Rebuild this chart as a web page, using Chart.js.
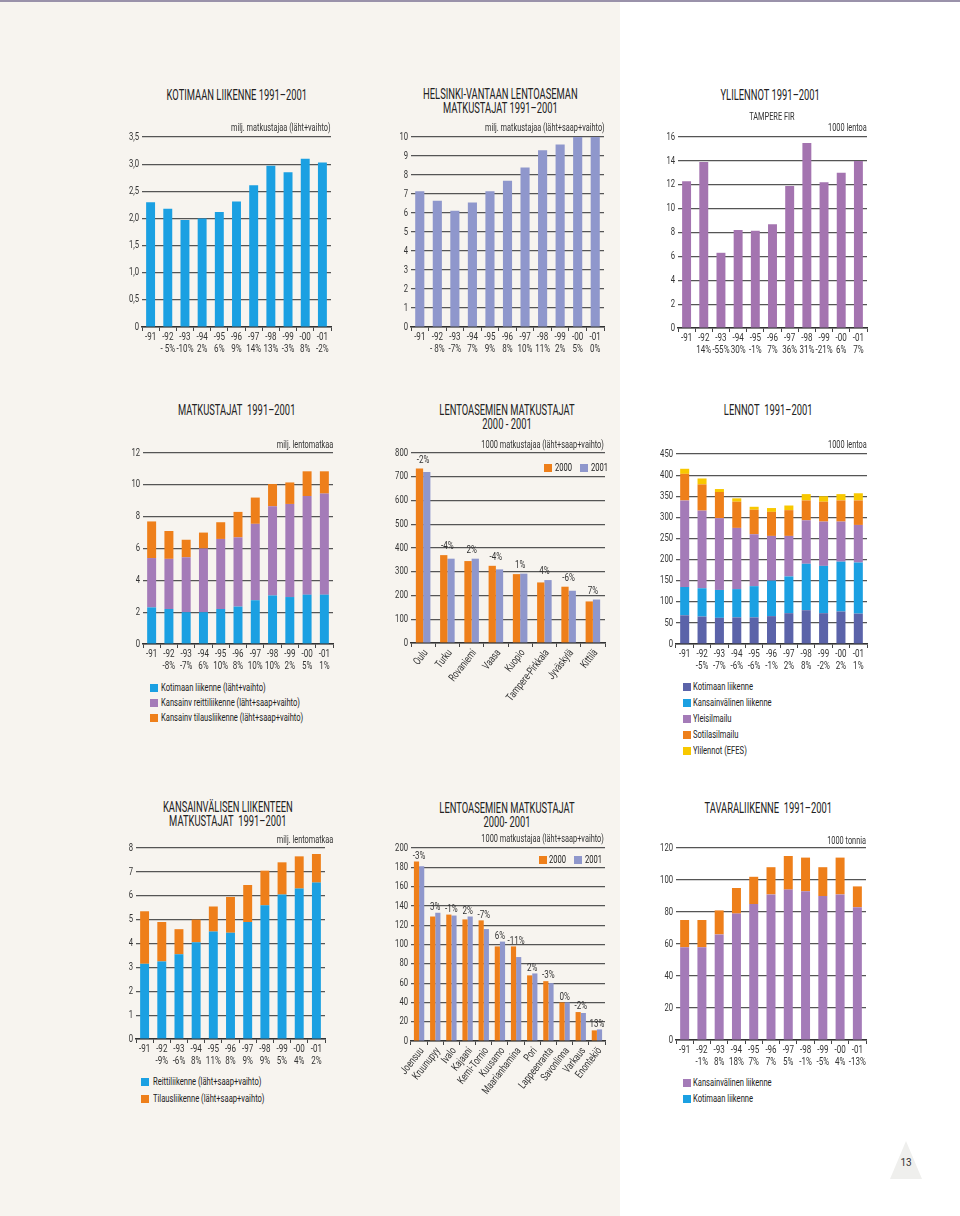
<!DOCTYPE html>
<html>
<head>
<meta charset="utf-8">
<script src="https://cdn.jsdelivr.net/npm/chart.js@4.4.1/dist/chart.umd.min.js"></script>
<style>
  html, body { margin: 0; padding: 0; }
  body { width: 960px; height: 1216px; position: relative; background: #fff; overflow: hidden;
         font-family: Roboto, 'Liberation Sans', sans-serif; color: #222; }
  #leftBg { position: absolute; left: 0; top: 0; width: 620px; height: 1216px; background: #f7f4ef; }
  #topLine { position: absolute; left: 0; top: 0; width: 960px; height: 2px; background: #9a92aa; }
  canvas { position: absolute; }
  .title { position: absolute; width: 300px; text-align: center; font-size: 14px; line-height: 14px; color: #222; }
  .title span { display: inline-block; transform: scaleX(0.67); transform-origin: 50% 50%; white-space: nowrap; }
  .unit { position: absolute; width: 240px; text-align: right; font-size: 11px; line-height: 12px; color: #333; }
  .unit span { display: inline-block; transform: scaleX(0.67); transform-origin: 100% 50%; white-space: nowrap; }
  .unit.center { text-align: center; }
  .unit.center span { transform-origin: 50% 50%; }
  .leg { position: absolute; font-size: 11px; line-height: 12px; color: #222; white-space: nowrap; }
  .leg i { position: absolute; width: 8px; height: 8px; top: 2px; left: 0; }
  .leg span { position: absolute; white-space: nowrap; transform: scaleX(0.69); transform-origin: 0 50%; }
  #pageNo { position: absolute; left: 890px; top: 1141px; width: 32px; height: 38px; background: #efefed;
            clip-path: polygon(50% 0, 100% 100%, 0 100%); }
  #pageNoTxt { position: absolute; left: 890px; top: 1157px; width: 32px; text-align: center; font-size: 10px; color: #333; }
</style>
</head>
<body>
<div id="leftBg"></div>
<div id="topLine"></div>
<div id="pageNo"></div>
<div id="pageNoTxt">13</div>

<canvas id="c1"></canvas><canvas id="c2"></canvas><canvas id="c3"></canvas>
<canvas id="c4"></canvas><canvas id="c5"></canvas><canvas id="c6"></canvas>
<canvas id="c7"></canvas><canvas id="c8"></canvas><canvas id="c9"></canvas>

<script>
// ====== Data ======
const years = ['-91', '-92', '-93', '-94', '-95', '-96', '-97', '-98', '-99', '-00', '-01'];

// Kotimaan liikenne 1991-2001 (milj.)
const kotimaaPct = ['', '- 5%', '-10%', '2%', '6%', '9%', '14%', '13%', '-3%', '8%', '-2%'];
const kotimaaVal = [2.3, 2.18, 1.97, 2.0, 2.12, 2.31, 2.61, 2.97, 2.85, 3.1, 3.03];
const kotimaaTicks = ['0', '0,5', '1,0', '1,5', '2,0', '2,5', '3,0', '3,5'];

// Helsinki-Vantaa (milj.)
const hvPct = ['', '- 8%', '-7%', '7%', '9%', '8%', '10%', '11%', '2%', '5%', '0%'];
const hvVal = [7.15, 6.65, 6.12, 6.55, 7.15, 7.7, 8.4, 9.3, 9.6, 10.0, 10.0];

// Ylilennot Tampere FIR (1000 lentoa)
const yliPct = ['', '14%', '-55%', '30%', '-1%', '7%', '36%', '31%', '-21%', '6%', '7%'];
const yliVal = [12.3, 13.9, 6.3, 8.2, 8.15, 8.7, 11.9, 15.5, 12.2, 13.0, 14.0];

// Matkustajat 1991-2001 (milj.)
const matkPct = ['', '-8%', '-7%', '6%', '10%', '8%', '10%', '10%', '2%', '5%', '1%'];
const matkKotimaa = [2.3, 2.2, 2.0, 2.0, 2.2, 2.35, 2.75, 3.05, 2.95, 3.1, 3.1];
const matkReitti = [3.1, 3.15, 3.45, 4.0, 4.4, 4.35, 4.8, 5.6, 5.85, 6.2, 6.35];
const matkTilaus = [2.3, 1.75, 1.1, 1.0, 1.05, 1.6, 1.65, 1.4, 1.35, 1.55, 1.4];

// Lentoasemien matkustajat 2000-2001, suuret (1000)
const asemat1 = ['Oulu', 'Turku', 'Rovaniemi', 'Vaasa', 'Kuopio', 'Tampere-Pirkkala', 'Jyväskylä', 'Kittilä'];
const asemat1v2000 = [735, 370, 345, 325, 290, 255, 237, 175];
const asemat1v2001 = [720, 355, 355, 310, 292, 265, 220, 183];
const asemat1Pct = ['-2%', '-4%', '2%', '-4%', '1%', '4%', '-6%', '7%'];

// Lennot 1991-2001 (1000 lentoa)
const lennotPct = ['', '-5%', '-7%', '-6%', '-6%', '-1%', '2%', '8%', '-2%', '2%', '1%'];
const lennotKotimaa = [68, 65, 62, 63, 63, 66, 73, 80, 73, 77, 72];
const lennotKansainv = [67, 67, 66, 67, 74, 84, 87, 110, 112, 118, 121];
const lennotYleis = [205, 184, 170, 145, 123, 106, 96, 103, 105, 95, 89];
const lennotSotilas = [63, 62, 62, 62, 58, 57, 61, 47, 47, 50, 58];
const lennotEfes = [12, 14, 7, 8, 7, 9, 11, 15, 13, 15, 17];

// Kansainvälisen liikenteen matkustajat (milj.)
const kvPct = ['', '-9%', '-6%', '8%', '11%', '8%', '9%', '9%', '5%', '4%', '2%'];
const kvReitti = [3.15, 3.25, 3.55, 4.05, 4.5, 4.45, 4.9, 5.6, 6.05, 6.3, 6.55];
const kvTilaus = [2.2, 1.65, 1.05, 0.95, 1.05, 1.5, 1.55, 1.45, 1.35, 1.35, 1.2];

// Lentoasemien matkustajat 2000-2001, pienet (1000)
const asemat2 = ['Joensuu', 'Kruunupyy', 'Ivalo', 'Kajaani', 'Kemi-Tornio', 'Kuusamo', 'Maarianhamina', 'Pori', 'Lappeenranta', 'Savonlinna', 'Varkaus', 'Enontekiö'];
const asemat2v2000 = [186, 129, 131, 126, 125, 98, 98, 68, 62, 40, 30, 11];
const asemat2v2001 = [181, 133, 130, 129, 116, 103, 87, 70, 60, 40, 29, 12];
const asemat2Pct = ['-3%', '3%', '-1%', '2%', '-7%', '6%', '-11%', '2%', '-3%', '0%', '-2%', '13%'];

// Tavaraliikenne (1000 tonnia)
const tavaraPct = ['', '-1%', '8%', '18%', '7%', '7%', '5%', '-1%', '-5%', '4%', '-13%'];
const tavaraKansainv = [58, 58, 66, 79, 85, 91, 94, 93, 90, 91, 83];
const tavaraKotimaa = [17, 17, 15, 16, 17, 17, 21, 21, 18, 23, 13];

// ====== Colours ======
const BLUE = '#1ba0e2', LAVENDER = '#8f97cc', PURPLE = '#a47bb8', ORANGE = '#ee7f1a',
      DARKBLUE = '#5b63a9', YELLOW = '#f8c800';
const FONT = "Roboto, 'Liberation Sans', sans-serif";
const SQUEEZE = 0.73;   // condensed look for canvas text

// ====== Helpers ======
function withPct(pct) { return years.map((y, i) => [y, pct[i]]); }

function place(id, x0, x1, top, zero, axisH, yW) {
    const c = document.getElementById(id);
    const padTop = 12, padRight = 3;
    c.width = (x1 - x0) + yW + padRight;
    c.height = (zero - top) + padTop + axisH;
    c.style.left = (x0 - yW) + 'px';
    c.style.top = (top - padTop) + 'px';
    return { canvas: c, padTop, padRight, yW, axisH };
}

function squeezeText(ctx, txt, x, y, angle) {
    ctx.save();
    ctx.translate(x, y);
    if (angle) ctx.rotate(-angle * Math.PI / 180);
    ctx.scale(SQUEEZE, 1);
    ctx.fillText(txt, 0, 0);
    ctx.restore();
}

// draws the axis labels in a narrow style (the chart's own labels are hidden)
const condensedTicks = {
    id: 'condensedTicks',
    afterDraw(chart) {
        const ctx = chart.ctx, xs = chart.scales.x, ys = chart.scales.y;
        const rot = chart.options.plugins.condensedTicks.rotate || 0;
        ctx.save();
        ctx.fillStyle = '#333';
        ctx.font = '10.5px ' + FONT;
        ctx.textAlign = 'right';
        ctx.textBaseline = 'middle';
        ys.ticks.forEach((t, i) => squeezeText(ctx, String(t.label), ys.right - 3, ys.getPixelForTick(i)));
        ctx.font = '11px ' + FONT;
        xs.ticks.forEach((t, i) => {
            const x = xs.getPixelForTick(i);
            if (rot) {
                ctx.textAlign = 'right';
                ctx.textBaseline = 'middle';
                squeezeText(ctx, t.label, x + 3, xs.top + 8, rot);
            } else {
                ctx.textAlign = 'center';
                ctx.textBaseline = 'top';
                const lines = Array.isArray(t.label) ? t.label : [t.label];
                lines.forEach((l, k) => squeezeText(ctx, l, x, xs.top + 5 + k * 11.5));
            }
        });
        ctx.restore();
    }
};

function makeOptions(geo, yMax, yStep, opts) {
    opts = opts || {};
    return {
        responsive: false,
        animation: false,
        layout: { padding: { top: geo.padTop, right: geo.padRight, left: 0, bottom: 0 } },
        plugins: { legend: { display: false }, tooltip: { enabled: false },
                   condensedTicks: { rotate: opts.rotate || 0 } },
        scales: {
            x: {
                stacked: !!opts.stacked,
                grid: { display: true, drawOnChartArea: false, offset: true, tickLength: 4, color: '#444', lineWidth: 1 },
                border: { color: '#333', width: 1.5 },
                ticks: { display: false, autoSkip: false },
                afterFit: s => { s.height = geo.axisH; }
            },
            y: {
                stacked: !!opts.stacked,
                min: 0, max: yMax,
                border: { display: false },
                grid: { color: '#555', lineWidth: 1.2, drawTicks: false },
                ticks: {
                    display: false, stepSize: yStep,
                    callback: opts.tickLabels ? ((v, i) => opts.tickLabels[i]) : (v => v)
                },
                afterFit: s => { s.width = geo.yW; }
            }
        }
    };
}

function barSet(data, color, extra) {
    return Object.assign({ data: data, backgroundColor: color, borderWidth: 0,
        barPercentage: 0.52, categoryPercentage: 1 }, extra || {});
}

function pctPlugin(texts, lift) {
    return {
        id: 'pctLabels',
        afterDatasetsDraw(chart) {
            const ctx = chart.ctx;
            const m0 = chart.getDatasetMeta(0), m1 = chart.getDatasetMeta(1);
            ctx.save();
            ctx.font = '11px ' + FONT;
            ctx.fillStyle = '#333';
            ctx.textAlign = 'center';
            ctx.textBaseline = 'bottom';
            texts.forEach((t, i) => {
                const x = (m0.data[i].x + m1.data[i].x) / 2;
                const y = Math.min(m0.data[i].y, m1.data[i].y);
                squeezeText(ctx, t, x, y - lift);
            });
            ctx.restore();
        }
    };
}

function addText(cls, html, left, top) {
    const d = document.createElement('div');
    d.className = cls;
    d.innerHTML = html;
    d.style.left = left + 'px';
    d.style.top = top + 'px';
    document.body.appendChild(d);
    return d;
}
function title(cx, cy, lines) {
    const h = lines.length * 14;
    addText('title', '<span>' + lines.join('<br>') + '</span>', cx - 150, cy - h / 2);
}
function unit(rightX, cy, txt) { addText('unit', '<span>' + txt + '</span>', rightX - 240, cy - 6); }
function legendItem(x, cy, color, txt, textX) {
    addText('leg', '<i style="background:' + color + '"></i><span style="left:' + (textX - x) + 'px">' + txt + '</span>', x, cy - 6);
}

// ====== Titles & units ======
title(237, 95, ['KOTIMAAN LIIKENNE 1991–2001']);
unit(331, 128, 'milj. matkustajaa (läht+vaihto)');
title(500, 101, ['HELSINKI-VANTAAN LENTOASEMAN', 'MATKUSTAJAT 1991–2001']);
unit(605, 128, 'milj. matkustajaa (läht+saap+vaihto)');
title(770, 95, ['YLILENNOT 1991–2001']);
addText('unit center', '<span>TAMPERE FIR</span>', 652, 111);
unit(867, 128, '1000 lentoa');

title(237, 410, ['MATKUSTAJAT&nbsp; 1991–2001']);
unit(333, 445, 'milj. lentomatkaa');
title(507, 417, ['LENTOASEMIEN MATKUSTAJAT', '2000 - 2001']);
unit(604, 445, '1000 matkustajaa (läht+saap+vaihto)');
title(768, 410, ['LENNOT&nbsp; 1991–2001']);
unit(867, 445, '1000 lentoa');

title(228, 814, ['KANSAINVÄLISEN LIIKENTEEN', 'MATKUSTAJAT&nbsp; 1991–2001']);
unit(333, 840, 'milj. lentomatkaa');
title(507, 815, ['LENTOASEMIEN MATKUSTAJAT', '2000- 2001']);
unit(604, 839, '1000 matkustajaa (läht+saap+vaihto)');
title(768, 808, ['TAVARALIIKENNE&nbsp; 1991–2001']);
unit(866, 841, '1000 tonnia');

// ====== Legends ======
legendItem(150, 688, BLUE, 'Kotimaan liikenne (läht+vaihto)', 161);
legendItem(150, 703, PURPLE, 'Kansainv reittiliikenne (läht+saap+vaihto)', 161);
legendItem(150, 718, ORANGE, 'Kansainv tilausliikenne (läht+saap+vaihto)', 161);

legendItem(544, 468, ORANGE, '2000', 555);
legendItem(580, 468, LAVENDER, '2001', 591);

legendItem(683, 687, DARKBLUE, 'Kotimaan liikenne', 693);
legendItem(683, 703, BLUE, 'Kansainvälinen liikenne', 693);
legendItem(683, 719, PURPLE, 'Yleisilmailu', 693);
legendItem(683, 735, ORANGE, 'Sotilasilmailu', 693);
legendItem(683, 751, YELLOW, 'Ylilennot (EFES)', 693);

legendItem(141, 1082, BLUE, 'Reittiliikenne (läht+saap+vaihto)', 153);
legendItem(141, 1099, ORANGE, 'Tilausliikenne (läht+saap+vaihto)', 153);

legendItem(539, 860, ORANGE, '2000', 549);
legendItem(574, 860, LAVENDER, '2001', 585);

legendItem(683, 1083, PURPLE, 'Kansainvälinen liikenne', 693);
legendItem(683, 1099, BLUE, 'Kotimaan liikenne', 693);

// ====== Charts ======
let g;

g = place('c1', 142, 331, 137, 327, 32, 32);
new Chart(g.canvas, { type: 'bar',
    data: { labels: withPct(kotimaaPct), datasets: [barSet(kotimaaVal, BLUE)] },
    options: makeOptions(g, 3.5, 0.5, { tickLabels: kotimaaTicks }),
    plugins: [condensedTicks] });

g = place('c2', 411, 604, 137, 327, 32, 30);
new Chart(g.canvas, { type: 'bar',
    data: { labels: withPct(hvPct), datasets: [barSet(hvVal, LAVENDER)] },
    options: makeOptions(g, 10, 1),
    plugins: [condensedTicks] });

g = place('c3', 678, 867, 137, 328, 32, 30);
new Chart(g.canvas, { type: 'bar',
    data: { labels: withPct(yliPct), datasets: [barSet(yliVal, '#a474b0')] },
    options: makeOptions(g, 16, 2),
    plugins: [condensedTicks] });

g = place('c4', 143, 333, 453, 644, 32, 32);
new Chart(g.canvas, { type: 'bar',
    data: { labels: withPct(matkPct), datasets: [
        barSet(matkKotimaa, BLUE), barSet(matkReitti, PURPLE), barSet(matkTilaus, ORANGE)] },
    options: makeOptions(g, 12, 2, { stacked: true }),
    plugins: [condensedTicks] });

g = place('c5', 411, 605, 453, 643, 75, 30);
new Chart(g.canvas, { type: 'bar',
    data: { labels: asemat1, datasets: [
        barSet(asemat1v2000, ORANGE, { barPercentage: 1, categoryPercentage: 0.6 }),
        barSet(asemat1v2001, LAVENDER, { barPercentage: 1, categoryPercentage: 0.6 })] },
    options: makeOptions(g, 800, 100, { rotate: 52 }),
    plugins: [condensedTicks, pctPlugin(asemat1Pct, 3)] });

g = place('c6', 676, 867, 454, 644, 32, 30);
new Chart(g.canvas, { type: 'bar',
    data: { labels: withPct(lennotPct), datasets: [
        barSet(lennotKotimaa, DARKBLUE), barSet(lennotKansainv, BLUE), barSet(lennotYleis, PURPLE),
        barSet(lennotSotilas, ORANGE), barSet(lennotEfes, YELLOW)] },
    options: makeOptions(g, 450, 50, { stacked: true }),
    plugins: [condensedTicks] });

g = place('c7', 136, 325, 848, 1039, 32, 30);
new Chart(g.canvas, { type: 'bar',
    data: { labels: withPct(kvPct), datasets: [barSet(kvReitti, BLUE), barSet(kvTilaus, ORANGE)] },
    options: makeOptions(g, 8, 1, { stacked: true }),
    plugins: [condensedTicks] });

g = place('c8', 411, 605, 848, 1041, 60, 30);
new Chart(g.canvas, { type: 'bar',
    data: { labels: asemat2, datasets: [
        barSet(asemat2v2000, ORANGE, { barPercentage: 1, categoryPercentage: 0.64 }),
        barSet(asemat2v2001, LAVENDER, { barPercentage: 1, categoryPercentage: 0.64 })] },
    options: makeOptions(g, 200, 20, { rotate: 52 }),
    plugins: [condensedTicks, pctPlugin(asemat2Pct, 0)] });

g = place('c9', 676, 866, 848, 1040, 32, 30);
new Chart(g.canvas, { type: 'bar',
    data: { labels: withPct(tavaraPct), datasets: [barSet(tavaraKansainv, PURPLE), barSet(tavaraKotimaa, ORANGE)] },
    options: makeOptions(g, 120, 20, { stacked: true }),
    plugins: [condensedTicks] });
</script>
</body>
</html>
